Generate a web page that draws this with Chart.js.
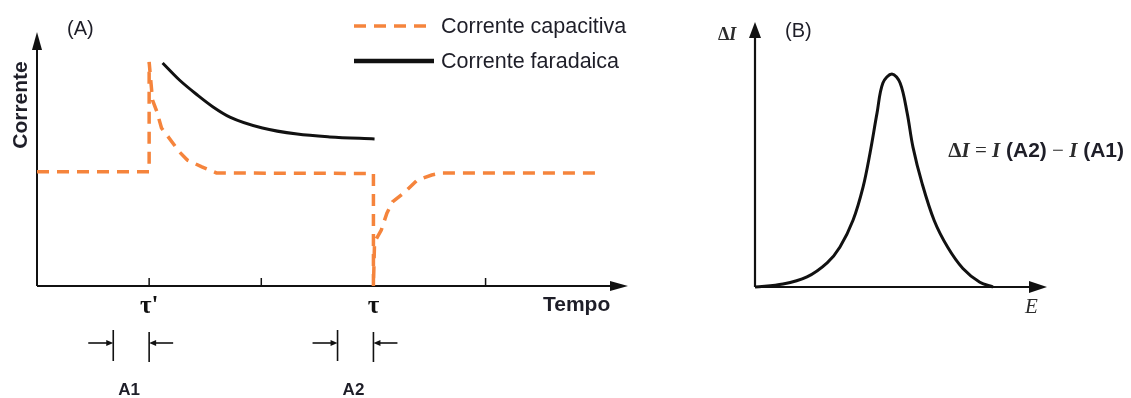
<!DOCTYPE html>
<html><head><meta charset="utf-8">
<script src="https://cdn.jsdelivr.net/npm/chart.js@4/dist/chart.umd.min.js"></script>
<style>
html,body{margin:0;padding:0;background:#fff;width:1131px;height:398px;overflow:hidden}
canvas{position:absolute;top:0}
#ca{left:0}#cb{left:650px}
</style></head>
<body>
<canvas id="ca" width="650" height="398"></canvas>
<canvas id="cb" width="481" height="398"></canvas>
<script>
// ---------- data (panel A: current vs time) ----------
const seriesNames = ['Corrente capacitiva', 'Corrente faradaica'];
const timeCapacitive = [0, 1.0, 1.0, 1.03, 1.07, 1.11, 1.17, 1.27, 1.34, 1.47, 1.60, 3.0, 3.0, 3.01, 3.07, 3.12, 3.17, 3.28, 3.39, 3.52, 3.61, 5.02];
const currentCapacitive = [4.5, 4.5, 8.82, 7.32, 6.85, 6.22, 5.87, 5.28, 4.96, 4.69, 4.45, 4.43, 0, 1.73, 2.2, 2.87, 3.31, 3.70, 4.17, 4.37, 4.45, 4.45];
const timeFaradaic = [1.12, 1.27, 1.43, 1.57, 1.72, 2.01, 2.32, 2.61, 3.01];
const currentFaradaic = [8.78, 8.11, 7.52, 7.05, 6.65, 6.22, 5.98, 5.87, 5.79];
const xTickValues = [1, 2, 3, 4];
const xTickLabels = ["τ'", '', 'τ', ''];
const windowLabels = ['A1', 'A2'];
const windowStart = [0.68, 2.68];
const windowEnd = [1.0, 3.0];
// ---------- data (panel B: ΔI vs E) ----------
const potential = [0, 0.96, 1.78, 2.47, 2.91, 3.36, 3.70, 3.94, 4.18, 4.38, 4.69, 4.97, 5.21, 5.41, 5.72, 6.14, 6.60, 7.12, 7.70, 8.15];
const deltaCurrent = [0, 0.11, 0.38, 0.91, 1.51, 2.53, 3.77, 5.06, 6.57, 7.70, 8.04, 7.70, 6.57, 5.28, 3.92, 2.50, 1.50, 0.70, 0.18, 0];

const ORANGE = '#f5843c';
const SANS = '"Liberation Sans", Arial, sans-serif';
const SERIF = '"Liberation Serif", "Times New Roman", serif';
const TXT = '#1e1e28';

function pts(xs, ys) { return xs.map((x, i) => ({x: x, y: ys[i]})); }

function arrowUp(ctx, x, y, len, half) {
  ctx.beginPath(); ctx.moveTo(x, y); ctx.lineTo(x - half, y + len); ctx.lineTo(x + half, y + len); ctx.closePath(); ctx.fill();
}
function arrowRight(ctx, x, y, len, half) {
  ctx.beginPath(); ctx.moveTo(x, y); ctx.lineTo(x - len, y - half); ctx.lineTo(x - len, y + half); ctx.closePath(); ctx.fill();
}
function arrowLeft(ctx, x, y, len, half) {
  ctx.beginPath(); ctx.moveTo(x, y); ctx.lineTo(x + len, y - half); ctx.lineTo(x + len, y + half); ctx.closePath(); ctx.fill();
}

const panelA = {
  id: 'panelA',
  beforeDatasetsDraw(chart) {
    const ctx = chart.ctx, xs = chart.scales.x, ys = chart.scales.y;
    const x0 = xs.getPixelForValue(xs.min), x1 = xs.getPixelForValue(xs.max);
    const y0 = ys.getPixelForValue(ys.min), y1 = ys.getPixelForValue(ys.max);
    ctx.save();
    ctx.strokeStyle = '#111'; ctx.fillStyle = '#111'; ctx.lineWidth = 2;
    ctx.beginPath(); ctx.moveTo(x0, y0); ctx.lineTo(x1 - 14, y0); ctx.stroke();
    arrowRight(ctx, x1, y0, 18, 5);
    ctx.beginPath(); ctx.moveTo(x0, y0); ctx.lineTo(x0, y1 + 14); ctx.stroke();
    arrowUp(ctx, x0, y1, 18, 5);
    ctx.lineWidth = 1.5;
    xTickValues.forEach(v => {
      const p = xs.getPixelForValue(v);
      ctx.beginPath(); ctx.moveTo(p, y0); ctx.lineTo(p, y0 - 8); ctx.stroke();
    });
    ctx.restore();
  },
  afterDraw(chart) {
    const ctx = chart.ctx, xs = chart.scales.x, ys = chart.scales.y;
    const y0 = ys.getPixelForValue(ys.min);
    ctx.save();
    ctx.fillStyle = '#111'; ctx.textAlign = 'center'; ctx.textBaseline = 'alphabetic';
    ctx.font = 'bold 25px ' + SERIF;
    xTickValues.forEach((v, i) => {
      if (xTickLabels[i]) ctx.fillText(xTickLabels[i], xs.getPixelForValue(v), y0 + 27);
    });
    ctx.strokeStyle = '#111'; ctx.fillStyle = '#111'; ctx.lineWidth = 1.6;
    windowLabels.forEach((lab, i) => {
      const a = xs.getPixelForValue(windowStart[i]), b = xs.getPixelForValue(windowEnd[i]);
      ctx.beginPath(); ctx.moveTo(a, y0 + 44); ctx.lineTo(a, y0 + 75); ctx.stroke();
      ctx.beginPath(); ctx.moveTo(b, y0 + 46); ctx.lineTo(b, y0 + 76); ctx.stroke();
      ctx.beginPath(); ctx.moveTo(a - 25, y0 + 57); ctx.lineTo(a - 5, y0 + 57); ctx.stroke();
      arrowRight(ctx, a, y0 + 57, 7, 3);
      ctx.beginPath(); ctx.moveTo(b + 24, y0 + 57); ctx.lineTo(b + 5, y0 + 57); ctx.stroke();
      arrowLeft(ctx, b, y0 + 57, 7, 3);
      ctx.font = 'bold 17px ' + SANS; ctx.fillStyle = TXT;
      ctx.fillText(lab, (a + b) / 2 - 2, 395);
      ctx.fillStyle = '#111';
    });
    ctx.fillStyle = TXT;
    ctx.font = 'bold 21px ' + SANS;
    ctx.textAlign = 'left';
    ctx.fillText('Tempo', 543, 311);
    ctx.save();
    ctx.translate(27, 105); ctx.rotate(-Math.PI / 2);
    ctx.textAlign = 'center';
    ctx.fillText('Corrente', 0, 0);
    ctx.restore();
    ctx.font = '20px ' + SANS; ctx.textAlign = 'left';
    ctx.fillText('(A)', 67, 35);
    const ds = chart.data.datasets;
    const ly = [26, 61];
    ds.forEach((d, i) => {
      ctx.save();
      ctx.strokeStyle = d.borderColor; ctx.lineWidth = i === 0 ? 3.5 : 4.5;
      ctx.setLineDash(i === 0 ? [12, 8] : []);
      ctx.beginPath(); ctx.moveTo(354, ly[i]); ctx.lineTo(434, ly[i]); ctx.stroke();
      ctx.restore();
      ctx.fillStyle = TXT; ctx.font = '21.5px ' + SANS;
      ctx.fillText(d.label, 441, ly[i] + 7);
    });
    ctx.restore();
  }
};

new Chart(document.getElementById('ca'), {
  type: 'line',
  data: {
    datasets: [
      { label: seriesNames[0], data: pts(timeCapacitive, currentCapacitive), borderColor: ORANGE, borderWidth: 3.5,
        borderDash: [12, 8], tension: 0, pointRadius: 0, fill: false, clip: false },
      { label: seriesNames[1], data: pts(timeFaradaic, currentFaradaic), borderColor: '#111', borderWidth: 3,
        tension: 0.4, cubicInterpolationMode: 'monotone', pointRadius: 0, fill: false, clip: false }
    ]
  },
  options: {
    responsive: false, animation: false, events: [],
    layout: { padding: { left: 37, right: 22, top: 32, bottom: 112 } },
    scales: {
      x: { type: 'linear', min: 0, max: 5.27, display: false },
      y: { type: 'linear', min: 0, max: 10, display: false }
    },
    plugins: { legend: { display: false }, tooltip: { enabled: false } }
  },
  plugins: [panelA]
});

const panelB = {
  id: 'panelB',
  beforeDatasetsDraw(chart) {
    const ctx = chart.ctx, xs = chart.scales.x, ys = chart.scales.y;
    const x0 = xs.getPixelForValue(xs.min), x1 = xs.getPixelForValue(xs.max);
    const y0 = ys.getPixelForValue(ys.min), y1 = ys.getPixelForValue(ys.max);
    ctx.save();
    ctx.strokeStyle = '#111'; ctx.fillStyle = '#111'; ctx.lineWidth = 2.2;
    ctx.beginPath(); ctx.moveTo(x0, y0); ctx.lineTo(x1 - 14, y0); ctx.stroke();
    arrowRight(ctx, x1, y0, 18, 6);
    ctx.beginPath(); ctx.moveTo(x0, y0); ctx.lineTo(x0, y1 + 12); ctx.stroke();
    arrowUp(ctx, x0, y1, 16, 6);
    ctx.restore();
  },
  afterDraw(chart) {
    const ctx = chart.ctx;
    ctx.save();
    ctx.textBaseline = 'alphabetic'; ctx.textAlign = 'left';
    function width(parts) {
      let w = 0; parts.forEach(p => { ctx.font = p[1]; w += ctx.measureText(p[0]).width; }); return w;
    }
    function seq(parts, x, y) {
      parts.forEach(p => { ctx.font = p[1]; ctx.fillStyle = p[2]; ctx.fillText(p[0], x, y); x += ctx.measureText(p[0]).width; });
    }
    const G = '#2c2c2c';
    seq([['Δ', 'bold 18px ' + SERIF, G], ['I', 'italic bold 18px ' + SERIF, G]], 68, 40);
    ctx.font = '20px ' + SANS; ctx.fillStyle = TXT;
    ctx.fillText('(B)', 135, 37);
    const formula = [
      ['Δ', 'bold 21px ' + SERIF, G], ['I', 'italic bold 21px ' + SERIF, G], [' = ', '21px ' + SERIF, G],
      ['I', 'italic bold 21px ' + SERIF, G], [' (A2)', 'bold 21px ' + SANS, TXT], [' − ', '21px ' + SERIF, G],
      ['I', 'italic bold 21px ' + SERIF, G], [' (A1)', 'bold 21px ' + SANS, TXT]
    ];
    seq(formula, Math.max(293, 474 - width(formula)), 157);
    ctx.font = 'italic 21px ' + SERIF; ctx.fillStyle = G;
    ctx.fillText('E', 375, 313);
    ctx.restore();
  }
};

new Chart(document.getElementById('cb'), {
  type: 'line',
  data: {
    datasets: [
      { label: 'ΔI', data: pts(potential, deltaCurrent), borderColor: '#111', borderWidth: 3,
        tension: 0.35, pointRadius: 0, fill: false, clip: false }
    ]
  },
  options: {
    responsive: false, animation: false, events: [],
    layout: { padding: { left: 105, right: 84, top: 22, bottom: 111 } },
    scales: {
      x: { type: 'linear', min: 0, max: 10, display: false },
      y: { type: 'linear', min: 0, max: 10, display: false }
    },
    plugins: { legend: { display: false }, tooltip: { enabled: false } }
  },
  plugins: [panelB]
});
</script>
</body></html>
